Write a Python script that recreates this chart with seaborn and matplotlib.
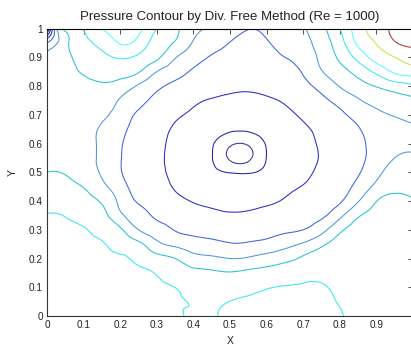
import numpy as np
import matplotlib
matplotlib.use("Agg")
import matplotlib.pyplot as plt
import matplotlib.tri as mtri
import seaborn as sns

# grid coordinates (x across, y up)
x_vals = [0.0, 0.05, 0.1, 0.15, 0.2, 0.25, 0.3, 0.35, 0.4, 0.45, 0.5,
          0.55, 0.6, 0.65, 0.7, 0.75, 0.8, 0.85, 0.9, 0.95, 1.0]
y_vals = [0.0, 0.05, 0.1, 0.15, 0.2, 0.25, 0.3, 0.35, 0.4, 0.45, 0.5,
          0.55, 0.6, 0.65, 0.7, 0.75, 0.8, 0.85, 0.9, 0.95, 1.0]

# pressure, in contour-level units; one column per x value
p_x000 = [6.95, 6.82, 6.69, 6.55, 6.42, 6.29, 6.16, 6.03, 5.71, 5.36, 5.0, 4.85, 4.72, 4.62, 4.55, 4.5, 4.45, 4.38, 4.25, 3.0, -2.0]
p_x005 = [6.9, 6.77, 6.64, 6.51, 6.38, 6.25, 6.12, 5.97, 5.63, 5.28, 4.93, 4.6, 4.5, 4.45, 4.42, 4.42, 4.55, 4.71, 4.74, 4.72, 5.17]
p_x010 = [6.82, 6.69, 6.56, 6.42, 6.29, 6.18, 6.06, 5.7, 5.33, 4.96, 4.45, 4.3, 4.28, 4.27, 4.3, 4.35, 4.68, 5.09, 5.41, 5.73, 6.05]
p_x015 = [6.72, 6.6, 6.47, 6.35, 6.22, 6.07, 5.7, 5.31, 4.87, 4.25, 3.9, 3.83, 3.84, 3.9, 4.17, 4.55, 4.9, 5.32, 5.76, 6.31, 7.02]
p_x020 = [6.6, 6.48, 6.36, 6.24, 6.12, 5.67, 5.15, 4.22, 3.75, 3.39, 3.08, 3.06, 3.12, 3.3, 3.55, 3.9, 4.62, 5.37, 6.1, 7.06, 7.4]
p_x025 = [6.47, 6.4, 6.32, 6.2, 5.8, 5.22, 4.0, 3.38, 2.9, 2.6, 2.42, 2.37, 2.42, 2.6, 2.85, 3.29, 3.88, 5.08, 5.85, 6.67, 7.25]
p_x030 = [6.32, 6.26, 6.2, 5.93, 5.33, 4.26, 3.37, 2.85, 2.55, 2.33, 2.18, 2.12, 2.15, 2.25, 2.45, 2.75, 3.17, 4.0, 5.2, 5.56, 6.0]
p_x035 = [6.12, 6.06, 5.99, 5.48, 5.0, 3.76, 2.96, 2.59, 2.22, 1.93, 1.8, 1.75, 1.78, 1.9, 2.14, 2.48, 2.82, 3.35, 4.08, 4.92, 5.2]
p_x040 = [5.9, 5.97, 5.72, 5.25, 4.4, 3.4, 2.77, 2.36, 1.96, 1.73, 1.55, 1.42, 1.45, 1.6, 1.85, 2.15, 2.5, 2.88, 3.36, 3.91, 4.35]
p_x045 = [5.93, 5.88, 5.6, 5.15, 4.2, 3.25, 2.65, 2.2, 1.8, 1.48, 1.2, 1.04, 1.09, 1.31, 1.6, 1.95, 2.27, 2.6, 2.93, 3.35, 3.8]
p_x050 = [6.15, 6.01, 5.6, 5.05, 4.0, 3.06, 2.56, 2.09, 1.7, 1.34, 0.96, -0.16, 0.22, 1.14, 1.49, 1.84, 2.15, 2.42, 2.7, 2.98, 3.4]
p_x055 = [6.27, 6.15, 5.75, 5.2, 4.12, 3.1, 2.59, 2.13, 1.73, 1.33, 0.92, -0.25, 0.17, 1.12, 1.47, 1.81, 2.1, 2.32, 2.55, 2.77, 3.02]
p_x060 = [6.33, 6.2, 5.95, 5.35, 4.42, 3.29, 2.68, 2.26, 1.85, 1.46, 1.19, 1.02, 1.07, 1.3, 1.59, 1.91, 2.18, 2.43, 2.68, 2.93, 3.19]
p_x065 = [6.35, 6.27, 6.04, 5.55, 4.72, 3.65, 2.84, 2.46, 2.08, 1.8, 1.5, 1.38, 1.4, 1.56, 1.8, 2.09, 2.39, 2.7, 3.0, 3.27, 3.55]
p_x070 = [6.33, 6.26, 6.1, 5.7, 5.15, 4.13, 3.0, 2.68, 2.35, 2.03, 1.85, 1.74, 1.76, 1.88, 2.13, 2.45, 2.76, 3.08, 3.35, 3.63, 3.93]
p_x075 = [6.26, 6.2, 6.1, 5.75, 5.5, 4.8, 3.65, 2.85, 2.55, 2.3, 2.13, 2.05, 2.08, 2.2, 2.45, 2.8, 3.31, 3.94, 4.26, 4.5, 4.73]
p_x080 = [6.05, 5.95, 5.8, 5.7, 5.6, 5.42, 4.79, 3.73, 2.9, 2.65, 2.5, 2.42, 2.45, 2.6, 2.83, 3.33, 4.05, 4.64, 5.17, 5.58, 6.0]
p_x085 = [5.85, 5.82, 5.78, 5.73, 5.66, 5.56, 5.4, 4.88, 3.93, 3.27, 2.92, 2.82, 2.85, 2.95, 3.3, 3.9, 4.6, 5.35, 6.33, 7.2, 7.55]
p_x090 = [5.75, 5.74, 5.72, 5.7, 5.66, 5.6, 5.5, 5.3, 4.98, 4.27, 3.7, 3.35, 3.25, 3.4, 3.75, 4.36, 5.06, 6.24, 7.43, 8.05, 8.47]
p_x095 = [5.65, 5.64, 5.62, 5.6, 5.57, 5.52, 5.46, 5.38, 5.2, 4.8, 4.42, 4.0, 3.7, 3.68, 4.08, 4.65, 5.5, 7.17, 8.0, 8.91, 9.4]
p_x100 = [5.55, 5.54, 5.52, 5.5, 5.47, 5.42, 5.35, 5.25, 5.05, 4.75, 4.44, 4.12, 3.85, 3.88, 4.29, 4.84, 5.83, 7.51, 8.43, 9.4, 11.0]

# a few extra samples: vortex centre and the top-left corner singularity
extra_x = [0.527, 0.025, 0.0, 0.025]
extra_y = [0.565, 1.0, 0.975, 0.975]
extra_p = [-0.6, 3.9, 1.0, 3.5]

# contour levels and their colours
levels = [0, 1, 2, 3, 4, 5, 6, 7, 8, 9]
level_colors = ["#34349a", "#2222aa", "#2a2ac8", "#3a66dc", "#5096e0",
                "#28c2d2", "#38e6ee", "#58faff", "#cce048", "#aa3636"]

x_ticks = [0, 0.1, 0.2, 0.3, 0.4, 0.5, 0.6, 0.7, 0.8, 0.9, 1.0]
x_tick_labels = ["0", "0.1", "0.2", "0.3", "0.4", "0.5", "0.6", "0.7", "0.8", "0.9", "1"]
y_ticks = [0, 0.1, 0.2, 0.3, 0.4, 0.5, 0.6, 0.7, 0.8, 0.9, 1.0]
y_tick_labels = ["0", "0.1", "0.2", "0.3", "0.4", "0.5", "0.6", "0.7", "0.8", "0.9", "1"]

sns.set_theme(style="white")
plt.rcParams["font.family"] = ["Liberation Sans", "DejaVu Sans"]

columns = [p_x000, p_x005, p_x010, p_x015, p_x020, p_x025, p_x030, p_x035,
           p_x040, p_x045, p_x050, p_x055, p_x060, p_x065, p_x070, p_x075,
           p_x080, p_x085, p_x090, p_x095, p_x100]
P = np.array(columns).T  # rows = y, cols = x
X, Y = np.meshgrid(np.array(x_vals), np.array(y_vals))
px = np.concatenate([X.ravel(), extra_x])
py = np.concatenate([Y.ravel(), extra_y])
pz = np.concatenate([P.ravel(), extra_p])

tri = mtri.Triangulation(px, py)
refiner = mtri.UniformTriRefiner(tri)
interp = mtri.CubicTriInterpolator(tri, pz, kind="min_E")
tri_r, z_r = refiner.refine_field(pz, triinterpolator=interp, subdiv=4)

fig = plt.figure(figsize=(4.11, 3.46), dpi=100)
ax = fig.add_axes([0.1144, 0.0867, 0.8905, 0.8309])
ax.tricontour(tri_r, z_r, levels=levels, colors=level_colors, linewidths=0.75)

ax.set_xlim(0, 1)
ax.set_ylim(0, 1)
ax.set_xticks(x_ticks)
ax.set_xticklabels(x_tick_labels)
ax.set_yticks(y_ticks)
ax.set_yticklabels(y_tick_labels)
ax.tick_params(direction="in", length=3.5, width=0.6, colors="#333333",
               labelsize=7.2, top=True, right=True, pad=3,
               labelcolor="#222222")
for s in ax.spines.values():
    s.set_color("#333333")
    s.set_linewidth(0.8)
ax.spines["top"].set_color("black")

ax.set_title("Pressure Contour by Div. Free Method (Re = 1000)", fontsize=9.5,
             color="#222222", pad=6)
ax.set_xlabel("X", fontsize=7.5, color="#222222")
ax.set_ylabel("Y", fontsize=7.5, color="#222222")
ax.xaxis.set_label_coords(0.5, -0.07)
ax.yaxis.set_label_coords(-0.08, 0.5)

fig.savefig("out.png", dpi=100, facecolor="white")
